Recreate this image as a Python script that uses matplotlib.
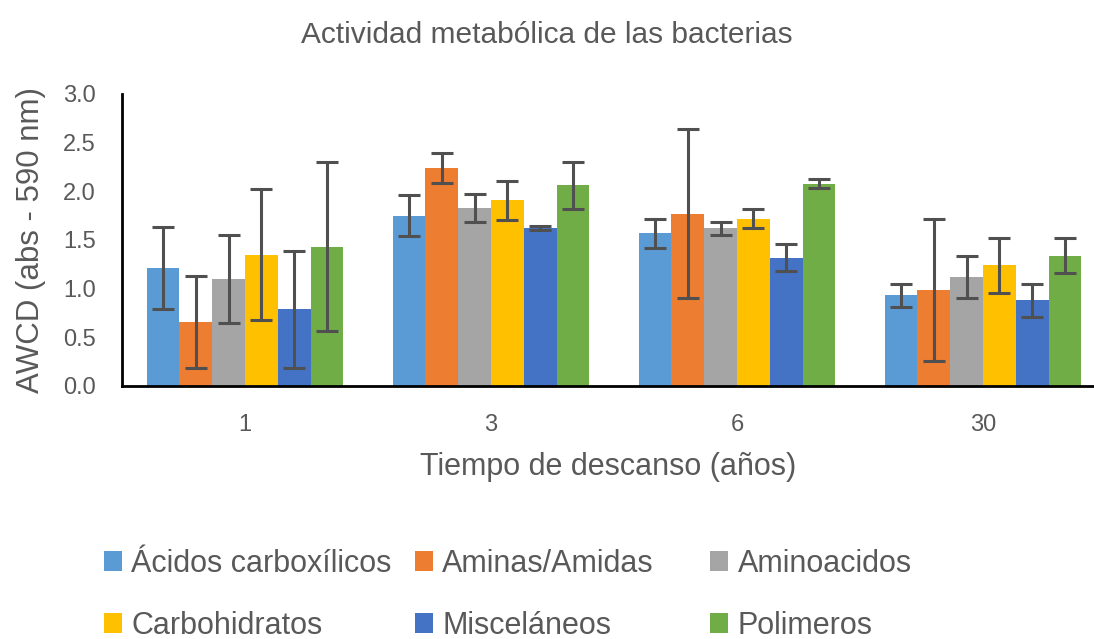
import matplotlib.pyplot as plt
import numpy as np

# data
tiempos = ["1", "3", "6", "30"]
series = ["Ácidos carboxílicos", "Aminas/Amidas", "Aminoacidos",
          "Carbohidratos", "Misceláneos", "Polimeros"]
acidos = [1.21, 1.75, 1.57, 0.93]
aminas = [0.66, 2.24, 1.77, 0.99]
aminoacidos = [1.10, 1.83, 1.62, 1.12]
carbohidratos = [1.35, 1.91, 1.72, 1.24]
miscelaneos = [0.79, 1.62, 1.32, 0.88]
polimeros = [1.43, 2.06, 2.08, 1.34]
err_acidos = [0.42, 0.21, 0.15, 0.12]
err_aminas = [0.47, 0.15, 0.87, 0.73]
err_aminoacidos = [0.45, 0.14, 0.07, 0.22]
err_carbohidratos = [0.67, 0.20, 0.10, 0.28]
err_miscelaneos = [0.60, 0.02, 0.14, 0.17]
err_polimeros = [0.87, 0.24, 0.045, 0.18]

valores = [acidos, aminas, aminoacidos, carbohidratos, miscelaneos, polimeros]
errores = [err_acidos, err_aminas, err_aminoacidos, err_carbohidratos,
           err_miscelaneos, err_polimeros]
colores = ["#5B9BD5", "#ED7D31", "#A5A5A5", "#FFC000", "#4472C4", "#70AD47"]

plt.rcParams['font.family'] = ['Liberation Sans', 'DejaVu Sans']
txt = "#595959"

fig = plt.figure(figsize=(10.94, 6.39), dpi=100)
ax = fig.add_axes([122/1094, (639-386)/639, 972/1094, (386-94)/639])

x = np.arange(len(tiempos))
w = 0.8 / len(series)
handles = []
for i, (vals, errs, c, name) in enumerate(zip(valores, errores, colores, series)):
    pos = x - 0.4 + w * (i + 0.5)
    b = ax.bar(pos, vals, width=w, color=c, label=name, zorder=2)
    ax.errorbar(pos, vals, yerr=errs, fmt="none", ecolor="#505050",
                elinewidth=2.2, capsize=8, capthick=2.2, zorder=3)
    handles.append(b)

ax.set_xlim(-0.5, 3.451)
ax.set_ylim(0, 3.0)
ax.set_yticks(np.arange(0, 3.01, 0.5))
ax.set_yticklabels([f"{v:.1f}" for v in np.arange(0, 3.01, 0.5)])
ax.set_xticks(x)
ax.set_xticklabels(tiempos)
ax.tick_params(axis="both", length=0, labelsize=17, colors=txt)
ax.tick_params(axis="x", pad=20)
ax.tick_params(axis="y", pad=19)
for s in ["top", "right"]:
    ax.spines[s].set_visible(False)
for s in ["left", "bottom"]:
    ax.spines[s].set_linewidth(2)
    ax.spines[s].set_color("black")

ax.set_ylabel("AWCD (abs - 590 nm)", fontsize=22.5, color=txt, labelpad=12)
ax.set_xlabel("Tiempo de descanso (años)", fontsize=22, color=txt, labelpad=12)
fig.text(0.5, 0.945, "Actividad metabólica de las bacterias", ha="center",
         va="center", fontsize=21.5, color=txt)

# legend: three columns placed separately, row-wise order
cols = [(0, 3), (1, 4), (2, 5)]
xs = [0.095, 0.379, 0.649]
for (a, b_), xl in zip(cols, xs):
    fig.legend([handles[a], handles[b_]], [series[a], series[b_]],
               loc="center left", bbox_to_anchor=(xl, 0.069),
               frameon=False, fontsize=22, handlelength=0.6,
               handleheight=0.6, handletextpad=0.3, labelspacing=1.05,
               labelcolor=txt, borderaxespad=0, borderpad=0)

fig.savefig("out.png", dpi=100)
